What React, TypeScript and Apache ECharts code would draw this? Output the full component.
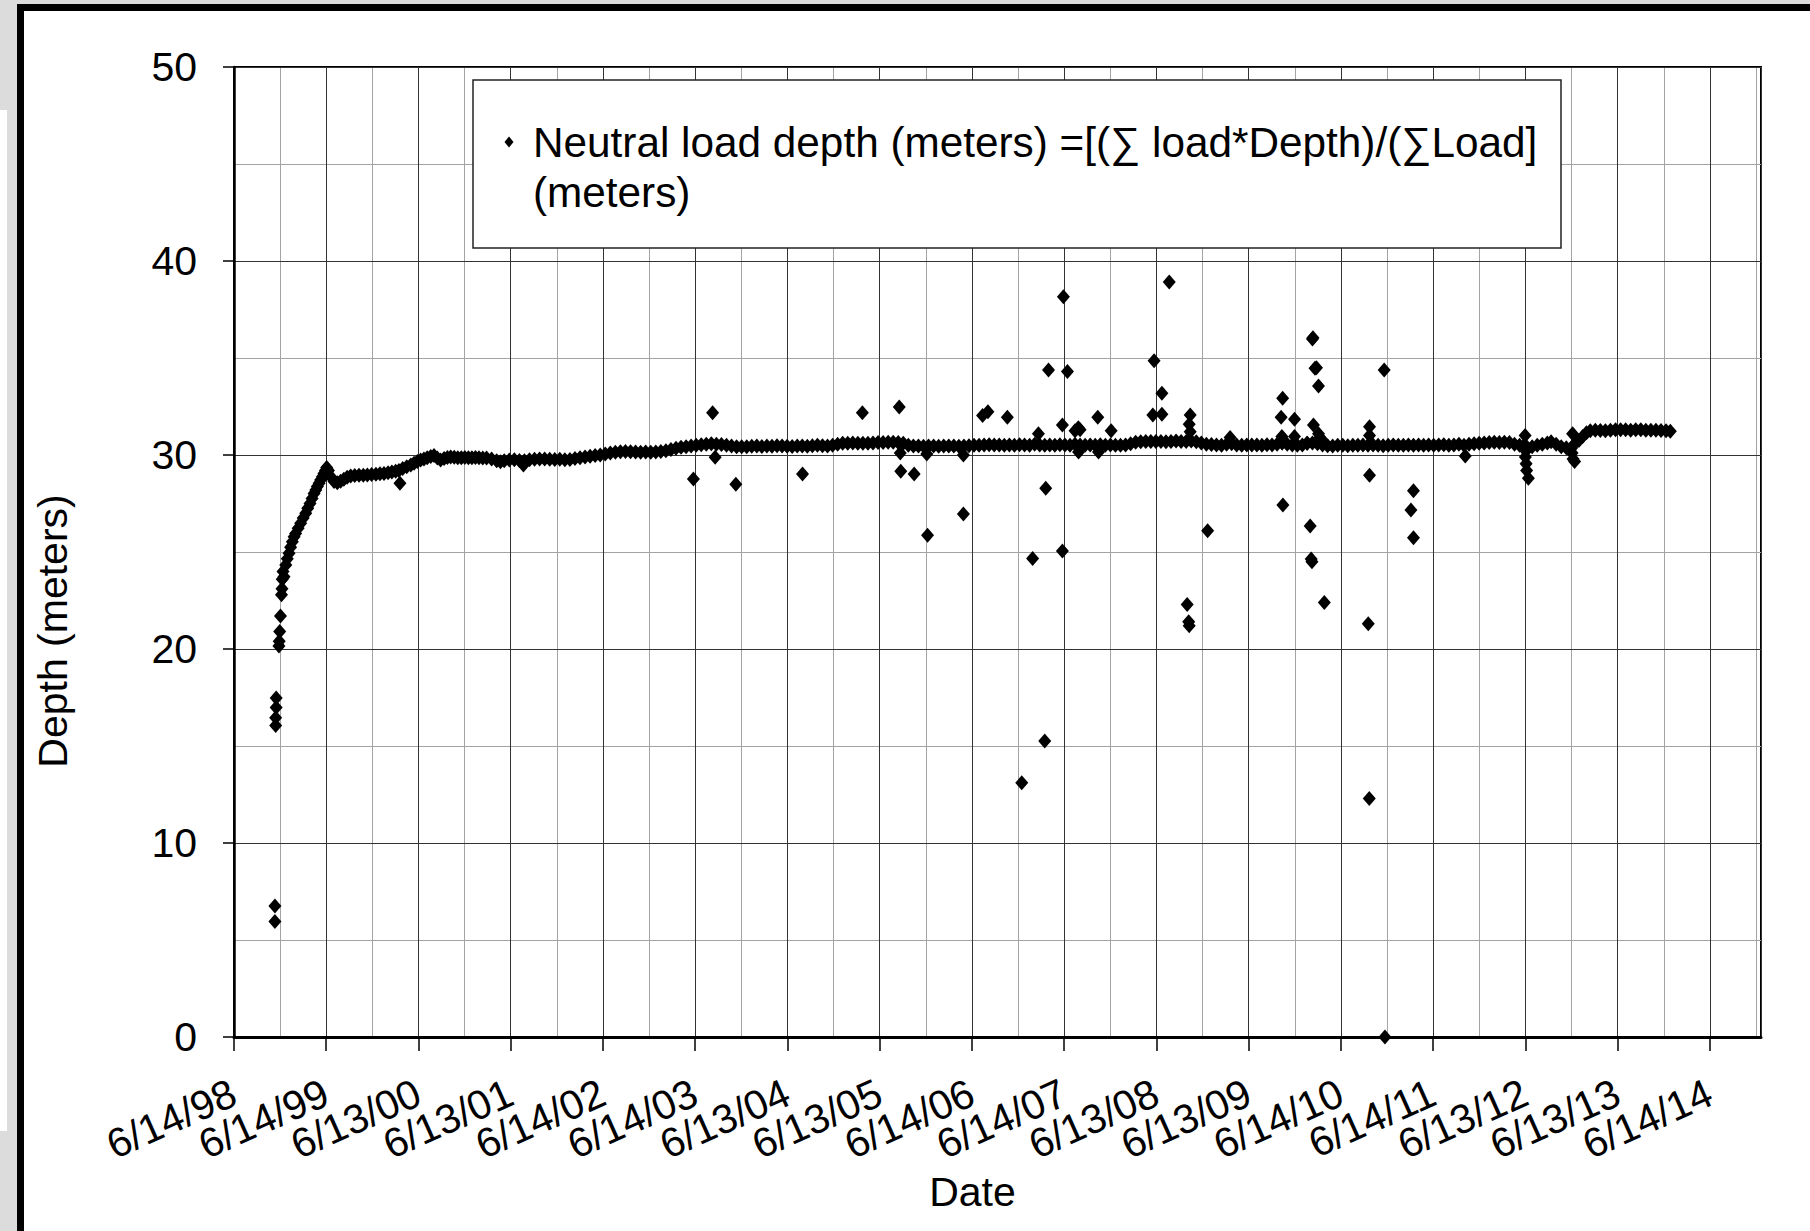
import React, { useEffect, useRef } from 'react';
import * as echarts from 'echarts';

// ---------------- data ----------------
// x = days since 6/14/98, y = neutral load depth (m)
const START_UTC = Date.UTC(1998, 5, 14);
const DAY_MS = 86400000;
const X_MAX_DAYS = 6046;

const xTickLabels = [
  '6/14/98', '6/14/99', '6/13/00', '6/13/01', '6/14/02', '6/14/03', '6/13/04', '6/13/05', '6/14/06',
  '6/14/07', '6/13/08', '6/13/09', '6/14/10', '6/14/11', '6/13/12', '6/13/13', '6/14/14',
];
const yTickValues = [0, 10, 20, 30, 40, 50];

const seriesName = 'Neutral load depth (meters) =[(∑ load*Depth)/(∑Load] (meters)';

const startupPoints: [number, number][] = [
  [162, 5.96], [162, 6.75], [165, 16.06], [165, 16.46], [167, 16.99], [167, 17.48],
  [178, 20.16], [179, 20.4], [181, 20.9], [184, 21.7], [188, 22.8], [190, 23.1], [191, 23.6], [194, 24.0],
];

const risingLimb: [number, number][] = [
  [198, 23.73], [205, 24.33], [211, 24.65], [218, 24.93], [224, 25.25], [231, 25.53], [238, 25.78], [244, 25.96],
  [254, 26.22], [264, 26.48], [274, 26.75], [284, 27.0], [292, 27.25], [301, 27.5], [309, 27.76], [317, 28.02],
  [324, 28.2], [330, 28.37], [337, 28.55], [343, 28.71], [350, 28.88], [356, 29.05], [362, 29.2], [367, 29.36],
  [374, 29.2], [383, 28.88], [396, 28.63], [409, 28.57], [422, 28.65], [435, 28.75], [448, 28.85], [462, 28.92],
  [478, 28.94], [495, 28.95], [512, 28.96], [528, 28.97], [545, 28.99], [562, 29.01], [578, 29.03], [594, 29.05],
  [610, 29.08], [625, 29.12], [640, 29.16], [653, 29.2], [668, 29.3], [684, 29.4], [700, 29.48], [713, 29.57],
  [726, 29.66], [739, 29.74], [752, 29.8], [765, 29.86], [779, 29.92], [792, 29.97], [805, 29.85], [818, 29.74],
  [832, 29.82], [845, 29.87], [858, 29.9], [872, 29.88], [886, 29.86], [900, 29.86], [914, 29.87], [928, 29.86],
  [942, 29.86], [956, 29.87], [970, 29.86], [985, 29.85], [1000, 29.84],
];

const band2001to2004: [number, number][] = [
  [1020, 29.8], [1040, 29.7], [1055, 29.65], [1070, 29.7], [1090, 29.74], [1110, 29.76], [1130, 29.72], [1150, 29.7],
  [1170, 29.76], [1190, 29.78], [1210, 29.8], [1230, 29.79], [1250, 29.78], [1270, 29.77], [1290, 29.78], [1310, 29.76],
  [1330, 29.77], [1350, 29.82], [1370, 29.86], [1390, 29.9], [1410, 29.94], [1430, 29.97], [1450, 30.0], [1470, 30.05],
  [1490, 30.1], [1510, 30.14], [1530, 30.17], [1550, 30.18], [1570, 30.17], [1590, 30.15], [1610, 30.14], [1630, 30.15],
  [1650, 30.14], [1670, 30.16], [1690, 30.18], [1710, 30.22], [1730, 30.28], [1750, 30.35], [1770, 30.4], [1790, 30.43],
  [1810, 30.46], [1830, 30.5], [1850, 30.53], [1870, 30.56], [1890, 30.58], [1910, 30.56], [1930, 30.54], [1950, 30.5],
  [1970, 30.46], [1990, 30.43], [2010, 30.42], [2030, 30.42],
];

const band2004to2007: [number, number][] = [
  [2050, 30.45], [2070, 30.47], [2090, 30.44], [2110, 30.46], [2130, 30.45], [2150, 30.48], [2170, 30.46], [2190, 30.45],
  [2210, 30.44], [2230, 30.46], [2250, 30.47], [2270, 30.45], [2290, 30.48], [2310, 30.5], [2330, 30.48], [2350, 30.47],
  [2370, 30.5], [2390, 30.55], [2410, 30.6], [2430, 30.6], [2450, 30.62], [2470, 30.6], [2490, 30.61], [2510, 30.6],
  [2530, 30.62], [2550, 30.64], [2570, 30.65], [2590, 30.66], [2610, 30.66], [2630, 30.65], [2650, 30.6], [2670, 30.5],
  [2690, 30.46], [2710, 30.47], [2730, 30.45], [2750, 30.46], [2770, 30.47], [2790, 30.45], [2810, 30.46], [2830, 30.47],
  [2850, 30.46], [2870, 30.45], [2890, 30.47], [2910, 30.48], [2930, 30.5], [2950, 30.5], [2970, 30.52], [2990, 30.53],
  [3010, 30.52], [3030, 30.52],
];

const band2007to2010: [number, number][] = [
  [3050, 30.5], [3070, 30.52], [3090, 30.5], [3110, 30.53], [3130, 30.52], [3150, 30.5], [3170, 30.55], [3190, 30.52],
  [3210, 30.5], [3230, 30.52], [3250, 30.5], [3270, 30.53], [3290, 30.52], [3310, 30.5], [3330, 30.55], [3350, 30.52],
  [3370, 30.5], [3390, 30.52], [3410, 30.5], [3430, 30.53], [3450, 30.5], [3470, 30.52], [3490, 30.5], [3510, 30.5],
  [3530, 30.52], [3550, 30.58], [3570, 30.66], [3590, 30.68], [3610, 30.7], [3630, 30.7], [3650, 30.69], [3670, 30.7],
  [3690, 30.68], [3710, 30.7], [3730, 30.72], [3750, 30.7], [3770, 30.7], [3790, 30.72], [3810, 30.68], [3830, 30.62],
  [3850, 30.56], [3870, 30.54], [3890, 30.52], [3910, 30.5], [3930, 30.55], [3950, 30.58], [3970, 30.52], [3990, 30.5],
  [4010, 30.52], [4030, 30.52],
];

const band2010to2012: [number, number][] = [
  [4050, 30.52], [4070, 30.5], [4090, 30.53], [4110, 30.52], [4130, 30.55], [4150, 30.6], [4170, 30.55], [4190, 30.52],
  [4210, 30.5], [4230, 30.52], [4250, 30.6], [4270, 30.62], [4290, 30.58], [4310, 30.52], [4330, 30.48], [4350, 30.46],
  [4370, 30.5], [4390, 30.5], [4410, 30.48], [4430, 30.5], [4450, 30.5], [4470, 30.52], [4490, 30.5], [4510, 30.52],
  [4530, 30.5], [4550, 30.48], [4570, 30.5], [4590, 30.52], [4610, 30.5], [4630, 30.5], [4650, 30.52], [4670, 30.5],
  [4690, 30.52], [4710, 30.5], [4730, 30.52], [4750, 30.5], [4770, 30.52], [4790, 30.53], [4810, 30.5], [4830, 30.52],
  [4850, 30.55], [4870, 30.5], [4890, 30.55], [4910, 30.58], [4930, 30.6], [4950, 30.62], [4970, 30.65], [4990, 30.66],
  [5010, 30.65], [5030, 30.66], [5050, 30.64],
];

const band2012to2014: [number, number][] = [
  [5070, 30.55], [5090, 30.5], [5105, 30.45], [5120, 30.4], [5140, 30.42], [5160, 30.5], [5180, 30.55], [5200, 30.62],
  [5215, 30.68], [5235, 30.55], [5255, 30.42], [5275, 30.38], [5295, 30.35], [5310, 30.6], [5325, 30.75], [5340, 30.95],
  [5355, 31.15], [5370, 31.25], [5390, 31.28], [5410, 31.26], [5430, 31.25], [5450, 31.28], [5470, 31.3], [5490, 31.3],
  [5510, 31.3], [5530, 31.28], [5550, 31.3], [5570, 31.3], [5590, 31.28], [5610, 31.27], [5630, 31.27], [5650, 31.26],
  [5670, 31.25], [5687, 31.22],
];

const scatteredReadings: [number, number][] = [
  [657, 28.54], [1146, 29.48], [1819, 28.76], [1895, 32.18], [1905, 29.88], [1987, 28.49],
  [2251, 29.02], [2488, 32.18], [2634, 32.47], [2638, 30.1], [2640, 29.16], [2693, 29.02], [2743, 30.05], [2746, 25.86],
  [2888, 26.96], [2888, 30.0], [2964, 32.03], [2985, 32.23],
  [3062, 31.94], [3119, 13.1], [3162, 24.66], [3185, 31.1], [3210, 15.26], [3214, 28.28], [3225, 34.38], [3280, 31.55],
  [3280, 25.05], [3284, 38.16], [3300, 34.3], [3330, 31.25], [3343, 31.4], [3344, 30.15], [3350, 31.3], [3420, 31.94],
  [3423, 30.15], [3473, 31.25], [3638, 32.06], [3643, 34.86], [3674, 33.18], [3674, 32.1], [3703, 38.92], [3774, 22.3],
  [3780, 21.4], [3782, 21.2], [3782, 31.58], [3786, 32.06], [3786, 31.2], [3855, 26.1], [3944, 30.9],
  [4146, 31.94], [4149, 30.95], [4152, 32.92], [4153, 27.42], [4199, 31.84], [4199, 30.95], [4248, 30.6], [4261, 26.34],
  [4265, 24.64], [4268, 24.5], [4270, 35.98], [4272, 36.05], [4274, 31.55], [4280, 34.47], [4286, 34.5], [4294, 33.56],
  [4294, 31.1], [4300, 30.9], [4310, 30.75], [4317, 22.4], [4491, 21.3], [4495, 12.3], [4496, 31.46], [4496, 31.0],
  [4496, 28.95], [4554, 34.38], [4557, 0], [4660, 27.16], [4670, 28.16], [4670, 25.74], [4875, 29.95],
  [5112, 31.0], [5115, 30.2], [5113, 29.9], [5116, 29.55], [5118, 29.2], [5125, 28.8],
  [5300, 31.1], [5298, 30.1], [5302, 29.8], [5308, 29.66],
];

// ---------------- helpers ----------------
const FONT = '"Liberation Sans", Arial, Helvetica, sans-serif';

function labelToDays(label: string): number {
  const [m, d, y] = label.split('/').map(Number);
  const year = y < 50 ? 2000 + y : 1900 + y;
  return Math.round((Date.UTC(year, m - 1, d) - START_UTC) / DAY_MS);
}
const tickDays = xTickLabels.map(labelToDays);
// ECharts always drops the first/last axis label+tick element when they crowd their
// neighbours; put placeholder entries at the axis ends so the real ones survive.
const FIRST_TICK = tickDays[0] + 0.001;
const xLabelValues = [0, FIRST_TICK, ...tickDays.slice(1), X_MAX_DAYS];
const formatX = (v: number) => {
  if (v === 0 || v === X_MAX_DAYS) return ' ';
  const i = tickDays.findIndex((t) => Math.abs(t - v) < 1.5);
  return i >= 0 ? xTickLabels[i] : ' ';
};

const allPoints = [
  ...startupPoints, ...risingLimb, ...band2001to2004, ...band2004to2007, ...band2007to2010,
  ...band2010to2012, ...band2012to2014, ...scatteredReadings,
];

export default function App() {
  const ref = useRef<HTMLDivElement>(null);
  useEffect(() => {
    if (!ref.current) return;
    const chart = echarts.init(ref.current, undefined, { renderer: 'svg' });
    const grayBg = '#dcdcdc';
    const option: any = {
      animation: false,
      backgroundColor: '#ffffff',
      textStyle: { fontFamily: FONT },
      grid: {
        left: 234, top: 67, width: 1527, height: 970, containLabel: false,
        show: true, borderColor: '#000', borderWidth: 2, backgroundColor: 'transparent',
      },
      xAxis: [
        {
          type: 'value', min: 0, max: X_MAX_DAYS, interval: 365.25, z: 2,
          name: 'Date', nameLocation: 'middle', nameGap: 124,
          nameTextStyle: { fontSize: 41, color: '#000', fontFamily: FONT, padding: [0, 50, 0, 0] },
          axisLine: { show: true, onZero: false, lineStyle: { color: '#000', width: 3 } },
          axisTick: { show: true, inside: false, length: 14, customValues: xLabelValues, lineStyle: { color: '#000', width: 1.5 } },
          axisLabel: {
            show: true, rotate: 24, margin: 54, fontSize: 41, color: '#000', fontFamily: FONT,
            customValues: xLabelValues, formatter: formatX, showMinLabel: false, showMaxLabel: false,
          },
          splitLine: { show: true, lineStyle: { color: '#333333', width: 1 } },
        },
        {
          type: 'value', min: 0, max: X_MAX_DAYS, interval: 182.625, z: 1, position: 'bottom',
          axisLine: { show: false }, axisTick: { show: false }, axisLabel: { show: false },
          splitLine: { show: true, lineStyle: { color: '#a3a3a3', width: 1 } },
        },
      ],
      yAxis: {
        type: 'value', min: yTickValues[0], max: yTickValues[yTickValues.length - 1], interval: 10, z: 2,
        name: 'Depth (meters)', nameLocation: 'middle', nameGap: 161,
        nameTextStyle: { fontSize: 41, color: '#000', fontFamily: FONT, padding: [0, 158, 0, 0] },
        axisLine: { show: true, lineStyle: { color: '#000', width: 2.5 } },
        axisTick: { show: true, inside: false, length: 11, lineStyle: { color: '#000', width: 1.5 } },
        axisLabel: { show: true, margin: 37, fontSize: 41, color: '#000', fontFamily: FONT, showMinLabel: true, showMaxLabel: true },
        splitLine: { show: true, lineStyle: { color: '#333333', width: 1 } },
        minorTick: { show: false, splitNumber: 2 },
        minorSplitLine: { show: true, lineStyle: { color: '#a3a3a3', width: 1 } },
      },
      series: [
        {
          name: seriesName,
          type: 'scatter',
          xAxisIndex: 0,
          yAxisIndex: 0,
          symbol: 'diamond',
          symbolSize: [13, 15],
          itemStyle: { color: '#000', opacity: 1 },
          data: allPoints,
          z: 3,
        },
      ],
      graphic: [
        { type: 'rect', silent: true, z: 100, shape: { x: 0, y: 0, width: 1810, height: 4 }, style: { fill: grayBg } },
        { type: 'rect', silent: true, z: 100, shape: { x: 0, y: 0, width: 17, height: 110 }, style: { fill: grayBg } },
        { type: 'rect', silent: true, z: 100, shape: { x: 7, y: 110, width: 10, height: 1021 }, style: { fill: grayBg } },
        { type: 'rect', silent: true, z: 100, shape: { x: 0, y: 1131, width: 17, height: 100 }, style: { fill: grayBg } },
        { type: 'rect', silent: true, z: 100, shape: { x: 17, y: 4, width: 1793, height: 7 }, style: { fill: '#000' } },
        { type: 'rect', silent: true, z: 100, shape: { x: 17, y: 4, width: 7, height: 1227 }, style: { fill: '#000' } },
        // legend box
        {
          type: 'rect', silent: true, z: 100,
          shape: { x: 473, y: 80, width: 1088, height: 168 },
          style: { fill: '#fff', stroke: '#222', lineWidth: 1.5 },
        },
        {
          type: 'polygon', silent: true, z: 101,
          shape: { points: [[509, 136.5], [513.5, 142], [509, 147.5], [504.5, 142]] },
          style: { fill: '#000' },
        },
        {
          type: 'text', silent: true, z: 101, x: 533, y: 117,
          style: {
            text: 'Neutral load depth (meters) =[(∑ load*Depth)/(∑Load]\n(meters)',
            fontSize: 42.3, fontFamily: FONT, fill: '#000', lineHeight: 50,
            align: 'left', verticalAlign: 'top',
          },
        },
      ],
    };
    chart.setOption(option);
    return () => chart.dispose();
  }, []);
  return (
    <div
      ref={ref}
      style={{ position: 'absolute', left: 0, top: 0, width: 1810, height: 1231, background: '#fff' }}
    />
  );
}
